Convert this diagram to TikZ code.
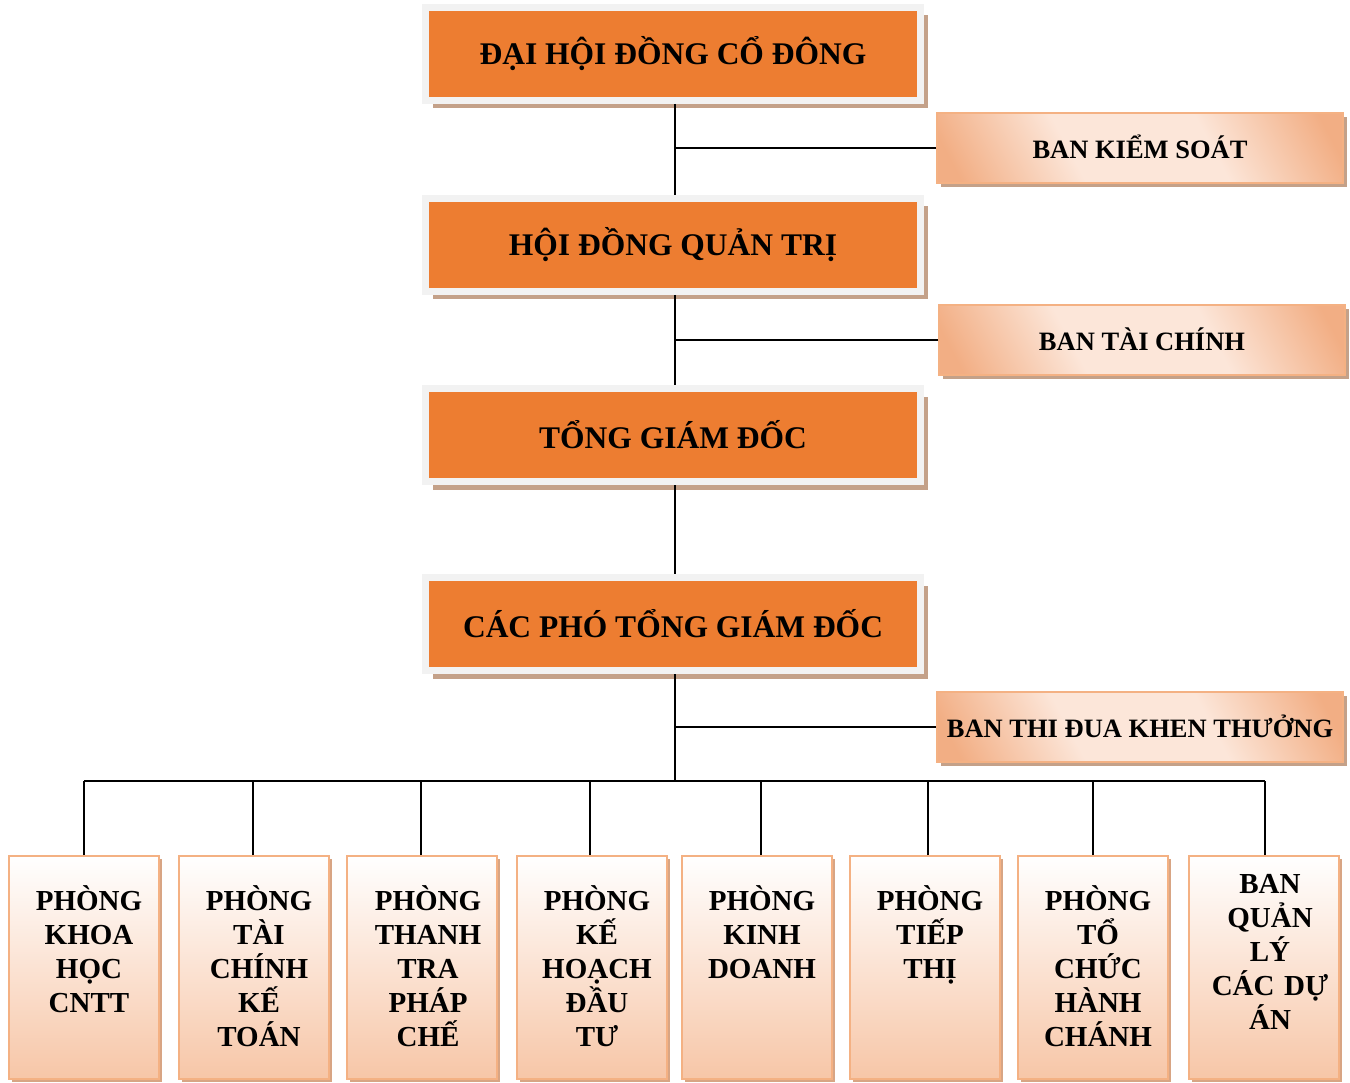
\documentclass[tikz,border=0pt]{standalone}
\usepackage{fontspec}
\setmainfont{Liberation Serif}
\usetikzlibrary{shadows}
\definecolor{orangec}{HTML}{ED7D31}
\definecolor{framec}{HTML}{F2F2F2}
\definecolor{shadowc}{HTML}{C4A189}
\definecolor{shadowb}{HTML}{D8A584}
\definecolor{peachbd}{HTML}{F4B183}
\definecolor{peachlt}{HTML}{FCE6D9}
\definecolor{peachdk}{HTML}{F7C6A7}
\definecolor{peachside}{HTML}{F2AE84}
\pgfdeclareverticalshading{sideshade}{100bp}{color(0bp)=(peachside); color(20bp)=(peachside); color(39bp)=(peachlt); color(61bp)=(peachlt); color(80bp)=(peachside); color(100bp)=(peachside)}
\begin{document}
\begin{tikzpicture}[x=1pt,y=-1pt,
  mainbox/.style={draw=framec, line width=7pt, fill=orangec,
    minimum width=495pt, minimum height=93pt, inner sep=0pt, outer sep=3.5pt,
    font=\bfseries\fontsize{31.5}{36}\selectfont,
    drop shadow={shadow xshift=7pt, shadow yshift=-8pt, fill=shadowc, opacity=1}},
  sidebox/.style={draw=peachbd, line width=2pt,
    shade, shading=sideshade, shading angle=-62,
    minimum width=406pt, minimum height=70pt, inner sep=0pt, outer sep=1pt,
    font=\bfseries\fontsize{26.5}{30}\selectfont,
    drop shadow={shadow xshift=4pt, shadow yshift=-4pt, fill=shadowc, opacity=1}},
  dept/.style={draw=peachbd, line width=2pt, top color=white, bottom color=peachdk,
    minimum width=150pt, minimum height=223pt, inner sep=0pt, outer sep=1pt,
    drop shadow={shadow xshift=3pt, shadow yshift=-3pt, fill=shadowb, opacity=1}},
  depttext/.style={anchor=base, text width=150pt, align=center, inner sep=0pt,
    font=\bfseries\fontsize{29}{34}\selectfont},
  conn/.style={draw=black, line width=2pt}
]
\fill[white] (0,0) rectangle (1350,1083);
\useasboundingbox (0,0) rectangle (1350,1083);

% main boxes
\node[mainbox] (m1) at (673,54) {\raisebox{-2pt}{ĐẠI HỘI ĐỒNG CỔ ĐÔNG}};
\node[mainbox] (m2) at (673,245) {\raisebox{-2pt}{HỘI ĐỒNG QUẢN TRỊ}};
\node[mainbox] (m3) at (673,435) {TỔNG GIÁM ĐỐC};
\node[mainbox] (m4) at (673,624) {CÁC PHÓ TỔNG GIÁM ĐỐC};

% side boxes
\node[sidebox] (s1) at (1140,148) {\raisebox{2pt}{BAN KIỂM SOÁT}};
\node[sidebox] (s2) at (1142,340) {\raisebox{2pt}{BAN TÀI CHÍNH}};
\node[sidebox] (s3) at (1140,727) {\raisebox{1pt}{BAN THI ĐUA KHEN THƯỞNG}};

% department boxes
\node[dept] (b1) at (84,967.5) {};
\node[dept] (b2) at (254,967.5) {};
\node[dept] (b3) at (422,967.5) {};
\node[dept] (b4) at (592,967.5) {};
\node[dept] (b5) at (757,967.5) {};
\node[dept] (b6) at (925,967.5) {};
\node[dept] (b7) at (1093,967.5) {};
\node[dept] (b8) at (1264,967.5) {};

\node[depttext] (t1) at (89,910) {PHÒNG\\KHOA\\HỌC\\CNTT};
\node[depttext] (t2) at (259,910) {PHÒNG\\TÀI\\CHÍNH\\KẾ\\TOÁN};
\node[depttext] (t3) at (428,910) {PHÒNG\\THANH\\TRA\\PHÁP\\CHẾ};
\node[depttext] (t4) at (597,910) {PHÒNG\\KẾ\\HOẠCH\\ĐẦU\\TƯ};
\node[depttext] (t5) at (762,910) {PHÒNG\\KINH\\DOANH};
\node[depttext] (t6) at (930,910) {PHÒNG\\TIẾP\\THỊ};
\node[depttext] (t7) at (1098,910) {PHÒNG\\TỔ\\CHỨC\\HÀNH\\CHÁNH};
\node[depttext] (t8) at (1270,893) {BAN\\QUẢN\\LÝ\\CÁC DỰ\\ÁN};

% connectors
\coordinate (busL) at (84,781);
\coordinate (busR) at (1265,781);
\draw[conn] ([xshift=2pt]m1.south) -- ([xshift=2pt]m2.north);
\draw[conn] ([xshift=2pt]m2.south) -- ([xshift=2pt]m3.north);
\draw[conn] ([xshift=2pt]m3.south) -- ([xshift=2pt]m4.north);
\draw[conn] ([xshift=2pt]m4.south) -- ([xshift=2pt]m4.south |- busL);
\draw[conn] (s1.west) -- ([xshift=2pt]s1.west -| m1.south);
\draw[conn] (s2.west) -- ([xshift=2pt]s2.west -| m2.south);
\draw[conn] (s3.west) -- ([xshift=2pt]s3.west -| m4.south);
\draw[conn] (busL) -- (busR);
\draw[conn] (b1.north) -- (b1.north |- busL);
\draw[conn] ([xshift=-1pt]b2.north) -- ([xshift=-1pt]b2.north |- busL);
\draw[conn] ([xshift=-1pt]b3.north) -- ([xshift=-1pt]b3.north |- busL);
\draw[conn] ([xshift=-2pt]b4.north) -- ([xshift=-2pt]b4.north |- busL);
\draw[conn] ([xshift=4pt]b5.north) -- ([xshift=4pt]b5.north |- busL);
\draw[conn] ([xshift=3pt]b6.north) -- ([xshift=3pt]b6.north |- busL);
\draw[conn] (b7.north) -- (b7.north |- busL);
\draw[conn] ([xshift=1pt]b8.north) -- ([xshift=1pt]b8.north |- busL);
\end{tikzpicture}
\end{document}
